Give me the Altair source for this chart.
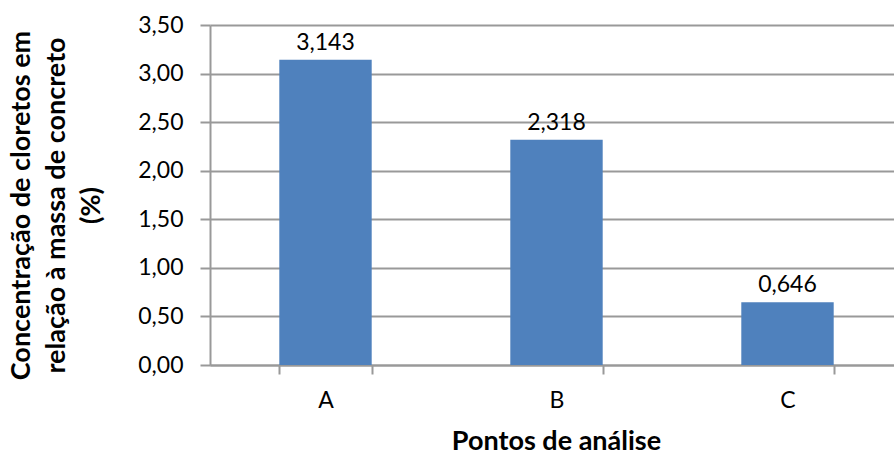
import altair as alt
import pandas as pd

pontos = ["A", "B", "C"]
concentracao = [3.143, 2.318, 0.646]
y_ticks = [0.0, 0.5, 1.0, 1.5, 2.0, 2.5, 3.0, 3.5]

df = pd.DataFrame({"ponto": pontos, "valor": concentracao})

FONT = "Lato"
GRID = "#999999"
LABEL_SIZE = 23
TITLE_SIZE = 27

x_enc = alt.X(
    "ponto:N",
    sort=pontos,
    scale=alt.Scale(range=[0, 693], paddingInner=0.6, paddingOuter=0.3),
    axis=alt.Axis(
        title="Pontos de análise",
        titleFont=FONT, titleFontSize=TITLE_SIZE, titleFontWeight="bold", titleColor="black",
        titleX=346, titleY=84, titleBaseline="alphabetic", titleAlign="center",
        labelFont=FONT, labelFontSize=LABEL_SIZE, labelColor="black", labelAngle=0,
        labelPadding=15,
        tickBand="extent", tickColor=GRID, tickSize=9, tickWidth=2,
        domainColor=GRID, domainWidth=2, grid=False,
    ),
)

y_enc = alt.Y(
    "valor:Q",
    scale=alt.Scale(domain=[0, 3.5], nice=False),
    axis=alt.Axis(
        title=["Concentração de cloretos em", "relação à massa de concreto", "(%)"],
        titleFont=FONT, titleFontSize=TITLE_SIZE, titleFontWeight="bold", titleColor="black",
        titleLineHeight=35, titleAngle=-90, titleAlign="center", titleBaseline="top",
        titleX=-202, titleY=180,
        values=y_ticks,
        labelExpr="replace(format(datum.value, '.2f'), '.', ',')",
        labelFont=FONT, labelFontSize=LABEL_SIZE, labelColor="black", labelPadding=17,
        tickColor=GRID, tickSize=10, tickWidth=2,
        domainColor=GRID, domainWidth=2,
        grid=True, gridColor=GRID, gridWidth=2,
    ),
)

bars = alt.Chart(df).mark_bar(color="#4F81BD").encode(x=x_enc, y=y_enc)

labels = alt.Chart(df).transform_calculate(
    rotulo="replace(format(datum.valor, '.3f'), '.', ',')"
).mark_text(
    font=FONT, fontSize=LABEL_SIZE, color="black", baseline="alphabetic", dy=-10
).encode(
    x=alt.X("ponto:N", sort=pontos),
    y=alt.Y("valor:Q"),
    text="rotulo:N",
)

chart = alt.layer(bars, labels).properties(
    width=684,
    height=340,
    padding={"left": 210, "top": 25, "right": 0, "bottom": 89},
    autosize=alt.AutoSizeParams(type="none"),
    background="white",
).configure_view(stroke=None)

chart.save("out.html", embed_options={"renderer": "svg", "actions": False})
